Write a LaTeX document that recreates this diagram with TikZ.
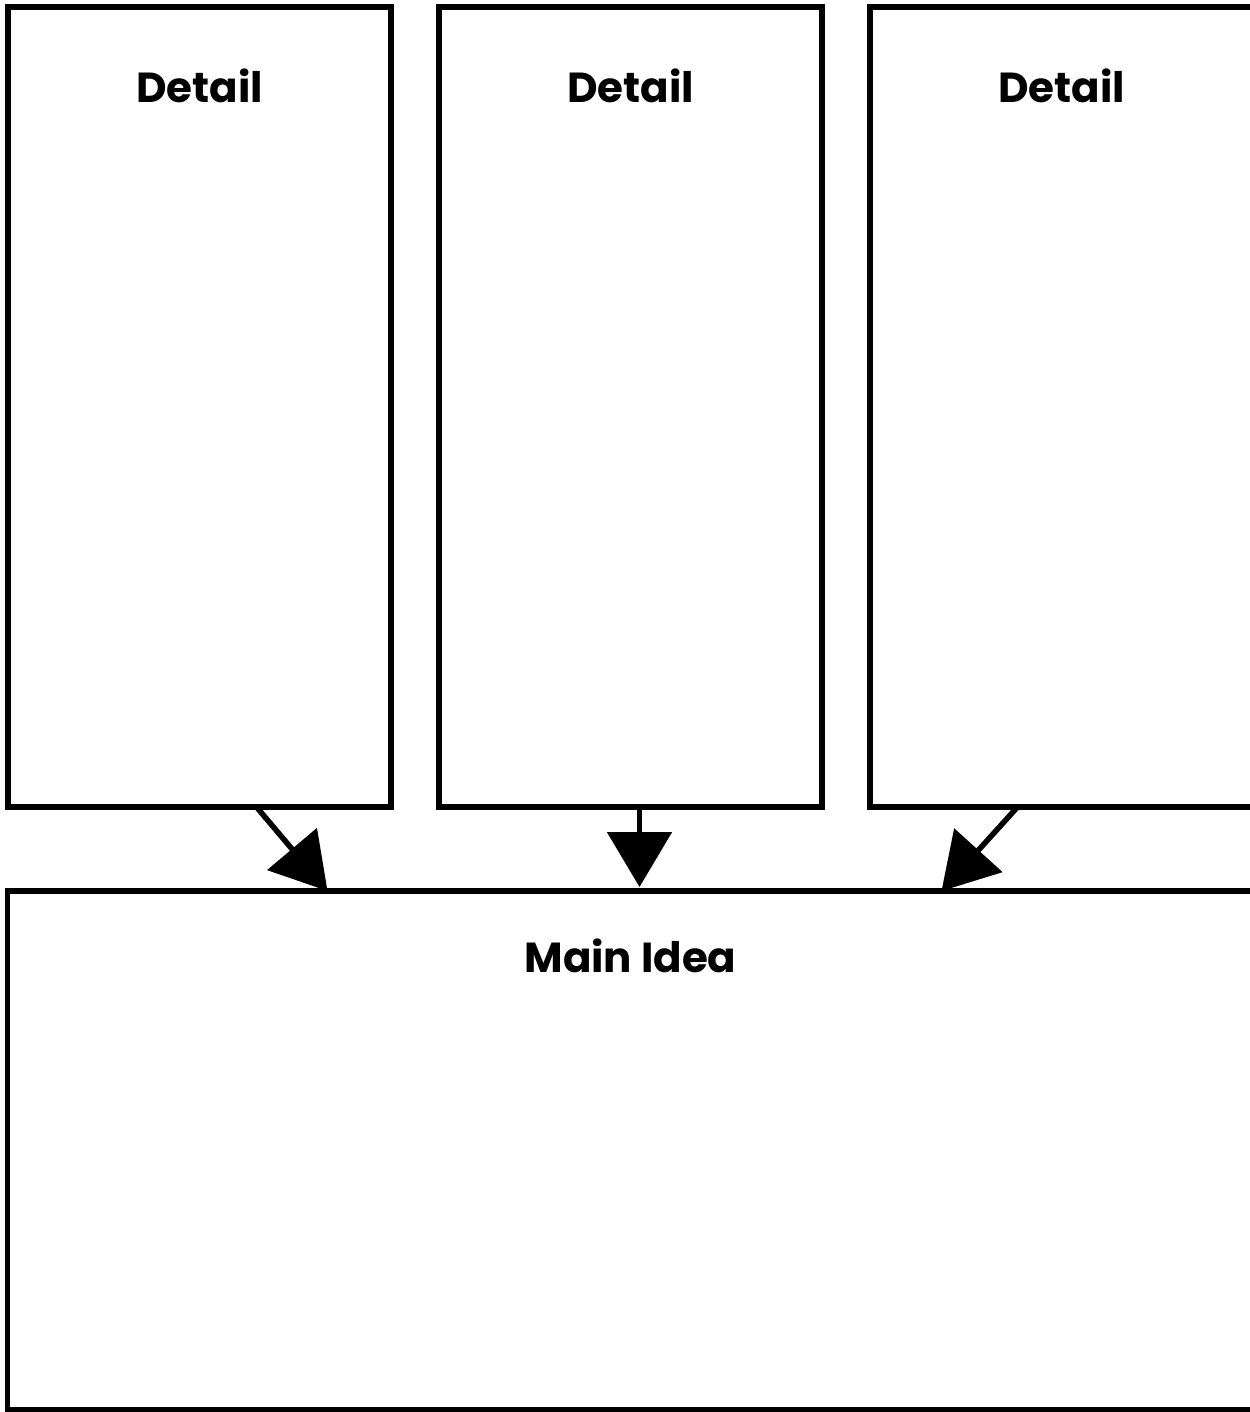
\documentclass[tikz,border=0pt]{standalone}
\usepackage{fontspec}
\setmainfont{Poppins}
\usetikzlibrary{positioning,arrows.meta,calc}
\tikzset{
  panel/.style={draw, line width=2.75pt, outer sep=0pt, minimum width=191.5pt, minimum height=400pt},
  mainpanel/.style={panel, minimum width=623pt, minimum height=259.5pt},
  heading/.style={anchor=base, font=\fontsize{21}{25}\selectfont\bfseries},
  link/.style={line width=2.75pt, -{Triangle[length=27.5pt,width=32pt]}}
}

\begin{document}
\begin{tikzpicture}[x=0.5pt, y=-0.5pt]
  \useasboundingbox (0,0) rectangle (1249,1412);
  \node[panel] (detailA) at (199.5,407) {};
  \node[panel, right=24pt of detailA] (detailB) {};
  \node[panel, right=24pt of detailB] (detailC) {};
  \node[mainpanel, below=42pt of detailB] (mainidea) {};
  \node[heading] (headA) at ($(detailA.north)+(0,96)$) {Detail};
  \node[heading] (headB) at ($(detailB.north)+(0,96)$) {Detail};
  \node[heading] (headC) at ($(detailC.north)+(0,96)$) {Detail};
  \node[heading] (headM) at ($(mainidea.north)+(0,81)$) {Main Idea};
  \draw[link] ($(detailA.south)+(57,0)$) -- ($(mainidea.north west)+(320,0)$);
  \draw[link] ($(detailB.south)+(9,0)$) -- ($(detailB.south |- mainidea.north)+(9,-4)$);
  \draw[link] ($(detailC.south)+(-44,0)$) -- ($(mainidea.north west)+(934,0)$);
\end{tikzpicture}
\end{document}
